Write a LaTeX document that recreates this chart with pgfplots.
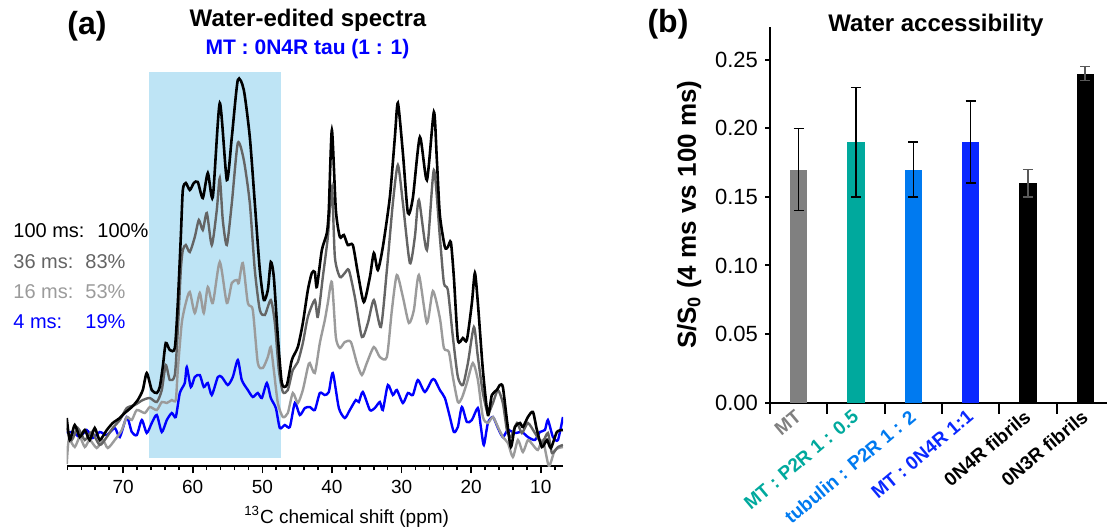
\documentclass[border=0pt]{standalone}
\usepackage{pgfplots}
\pgfplotsset{compat=1.18}
\usepackage{fontspec}
\setmainfont{Liberation Sans}

\definecolor{shade}{RGB}{190,228,245}
\definecolor{dgray}{RGB}{100,100,100}
\definecolor{lgray}{RGB}{155,155,155}
\definecolor{sblue}{RGB}{0,0,255}
\definecolor{bgray}{RGB}{128,128,128}
\definecolor{bteal}{RGB}{0,169,157}
\definecolor{blight}{RGB}{0,122,240}
\definecolor{bblue}{RGB}{10,40,255}

\begin{document}
\begin{tikzpicture}
\useasboundingbox (0pt,0pt) rectangle (553.5pt,263pt);

% ---------- (a) water-edited spectra ----------
\begin{axis}[
  at={(33.35pt,30pt)}, anchor=south west, scale only axis,
  width=248.2pt, height=197pt,
  xmin=6.8, xmax=78.1, ymin=0, ymax=394, x dir=reverse,
  axis x line*=bottom, hide y axis,
  axis line style={-, line width=1pt},
  xtick={10,20,...,70}, minor xtick={8,10,...,78},
  tick align=outside, major tick length=3.5pt, minor tick length=2pt,
  every tick/.style={black, line width=0.8pt},
  ticklabel style={font=\fontsize{9.5}{11}\selectfont},
  /pgf/number format/assume math mode=true,
  xlabel={\textsuperscript{13}C chemical shift (ppm)},
  xlabel style={font=\fontsize{9.5}{11}\selectfont, at={(axis description cs:0.564,0)}, anchor=center, yshift=-25.5pt},
]
\addplot[fill=shade, draw=none] coordinates {(66.25,8) (47.25,8) (47.25,394) (66.25,394)} -- cycle;
% 4 ms
\addplot[sblue, line width=1.2pt, smooth, tension=0.4] coordinates {
(78.09,33) (77.23,34) (76.22,29) (75.22,36) (74.35,28) (73.35,34) (72.34,31) (71.19,38) (70.47,29) (69.47,49)
(68.75,34) (68.03,31) (67.31,46) (66.60,33) (65.88,43) (65.16,51) (64.44,34) (63.72,46) (63.00,53) (62.43,49)
(61.85,73) (61.14,83) (60.85,99) (60.27,79) (59.70,89) (58.98,91) (58.41,79) (57.83,83) (57.26,71) (56.39,89)
(55.82,89) (54.96,81) (54.24,89) (53.52,106) (52.95,86) (52.08,76) (51.37,69) (50.65,73) (50.07,68) (49.35,83)
(48.78,68) (48.06,58) (47.49,38) (46.77,41) (46.05,39) (45.33,63) (44.61,51) (43.89,58) (43.18,59) (42.46,56)
(41.74,73) (41.02,71) (40.45,74) (39.87,93) (39.01,58) (38.15,48) (37.43,56) (36.57,66) (36.14,64) (35.56,74)
(34.55,56) (33.84,58) (33.12,64) (32.69,56) (31.97,81) (31.25,71) (30.68,76) (29.81,63) (29.09,73) (28.38,71)
(27.66,86) (26.65,74) (25.65,86) (25.22,86) (24.50,76) (23.78,68) (23.06,49) (22.49,34) (21.91,39) (21.34,59)
(20.62,44) (19.90,46) (19.04,58) (18.61,39) (18.18,21) (17.60,43) (16.88,49) (16.16,38) (15.45,29) (14.73,36)
(13.72,33) (12.72,34) (11.85,29) (10.85,26) (10.13,34) (9.41,36) (8.98,46) (8.26,29) (7.54,26) (6.82,49)};
% 16 ms
\addplot[lgray, line width=1.2pt, smooth, tension=0.4] coordinates {
(78.09,2) (77.80,26) (76.94,19) (76.22,29) (75.50,19) (74.79,26) (73.78,18) (72.92,26) (72.20,18) (71.19,26)
(70.19,36) (69.47,49) (68.75,46) (68.03,56) (66.88,53) (66.16,59) (65.16,56) (64.44,64) (63.72,63) (63.00,66)
(62.43,66) (62.14,96) (61.57,143) (60.99,163) (60.42,174) (59.70,153) (58.98,173) (58.41,153) (57.83,179) (57.11,163)
(56.11,204) (55.10,163) (54.38,183) (53.66,186) (53.38,183) (52.80,203) (52.08,163) (51.37,156) (50.65,103) (49.93,98)
(49.21,109) (48.78,119) (48.35,96) (47.77,63) (47.05,49) (46.34,53) (45.62,73) (44.90,63) (44.18,76) (43.46,99)
(43.18,103) (42.46,93) (41.74,123) (41.02,146) (40.59,163) (40.01,184) (39.44,129) (38.86,118) (38.15,124) (37.28,124)
(36.42,103) (35.70,91) (34.99,103) (33.98,119) (33.12,109) (32.11,109) (31.39,156) (30.68,191) (29.81,169) (28.95,143)
(28.23,156) (27.51,191) (26.36,143) (25.50,175) (24.50,148) (23.92,118) (23.20,114) (22.63,89) (21.91,64) (21.34,68)
(20.62,83) (19.76,103) (19.04,86) (18.32,49) (17.60,43) (16.88,49) (16.16,39) (15.45,29) (14.73,23) (14.01,9)
(13.29,26) (12.57,14) (11.85,26) (11.13,21) (10.42,16) (9.70,26) (8.84,0) (7.97,16) (6.82,19)};
% 36 ms
\addplot[dgray, line width=1.2pt, smooth, tension=0.4] coordinates {
(78.09,38) (77.37,26) (76.51,38) (75.50,26) (74.50,34) (73.35,21) (72.34,29) (71.48,38) (70.47,46) (69.47,58)
(68.32,61) (67.17,66) (66.16,68) (65.16,64) (64.44,76) (63.87,101) (63.29,86) (62.57,91) (62.14,136) (61.71,196)
(61.42,216) (60.99,221) (60.42,214) (59.70,229) (59.12,246) (58.55,236) (57.97,253) (57.26,221) (56.54,256) (56.11,288)
(55.68,246) (55.10,221) (54.38,263) (53.52,323) (52.66,306) (51.80,263) (51.08,196) (50.36,156) (49.64,151) (48.78,166)
(48.20,143) (47.63,96) (47.05,74) (46.34,76) (45.62,96) (44.90,104) (44.18,123) (43.46,149) (42.46,166) (42.03,149)
(41.31,189) (40.59,229) (40.01,279) (39.58,209) (38.86,189) (38.15,193) (37.57,196) (36.71,169) (35.70,129) (34.84,143)
(33.98,166) (32.97,139) (32.11,196) (31.25,263) (30.53,301) (29.81,263) (28.81,203) (28.09,229) (27.51,266) (26.36,216)
(25.36,296) (24.50,229) (23.92,183) (23.35,176) (22.63,129) (21.91,89) (21.19,81) (20.47,103) (19.61,139) (19.04,109)
(18.32,73) (17.60,53) (16.88,63) (16.16,76) (15.45,63) (14.87,36) (14.30,29) (13.43,43) (12.72,33) (11.85,43)
(10.85,33) (9.84,23) (8.98,33) (8.40,13) (7.54,19) (6.82,21)};
% 100 ms
\addplot[black, line width=1.3pt, smooth, tension=0.4] coordinates {
(78.09,48) (77.66,26) (76.94,41) (76.22,29) (75.50,36) (74.79,26) (74.07,38) (73.35,26) (72.34,36) (71.48,43)
(70.47,48) (69.76,53) (68.75,59) (67.89,66) (67.17,76) (66.60,93) (65.88,76) (65.16,73) (64.73,79) (64.30,99)
(63.87,123) (63.29,116) (62.57,118) (62.14,163) (61.71,229) (61.42,276) (60.99,283) (60.42,276) (59.84,283) (59.27,284)
(58.55,268) (57.83,293) (57.11,269) (56.11,363) (55.10,286) (54.38,329) (53.52,386) (52.66,376) (51.80,329) (51.08,263)
(50.36,196) (49.78,166) (49.21,176) (48.78,204) (48.35,189) (47.77,129) (47.20,83) (46.48,81) (45.76,106) (44.90,119)
(44.18,143) (43.46,176) (42.89,193) (42.46,194) (42.17,179) (41.45,216) (40.73,233) (40.45,256) (40.01,336) (39.44,256)
(38.86,229) (38.29,231) (37.72,221) (37.00,221) (36.28,193) (35.42,164) (34.55,189) (33.98,213) (33.41,196) (32.69,219)
(31.68,269) (30.96,329) (30.53,363) (29.81,313) (29.09,253) (28.38,268) (27.37,329) (26.36,286) (25.36,354) (24.93,306)
(24.50,251) (23.78,219) (23.35,219) (22.92,224) (22.49,189) (21.91,126) (21.19,128) (20.62,126) (19.90,163) (19.47,193)
(19.04,163) (18.32,96) (17.60,51) (17.03,71) (16.31,76) (15.88,81) (15.45,79) (14.87,46) (14.30,19) (13.72,39)
(13.00,43) (12.57,39) (11.85,49) (11.13,54) (10.56,36) (9.84,19) (9.12,26) (8.55,18) (7.69,34) (6.82,36)};
\end{axis}

\node[font=\bfseries\fontsize{16}{18}\selectfont] at (43.5pt,250pt) {(a)};
\node[font=\bfseries\fontsize{12}{14}\selectfont] at (154pt,253pt) {Water-edited spectra};
\node[font=\bfseries\fontsize{10.5}{12}\selectfont, text=sblue] at (153.75pt,238.5pt) {MT : 0N4R tau (1 : 1)};
\node[anchor=west, font=\fontsize{10}{12}\selectfont, inner sep=0pt] at (6.5pt,147.5pt) {\makebox[42pt][l]{100 ms:}100\%};
\node[anchor=west, font=\fontsize{10}{12}\selectfont, inner sep=0pt, text=dgray] at (6.5pt,132pt) {\makebox[36pt][l]{36 ms:}83\%};
\node[anchor=west, font=\fontsize{10}{12}\selectfont, inner sep=0pt, text=lgray] at (6.5pt,117pt) {\makebox[36pt][l]{16 ms:}53\%};
\node[anchor=west, font=\fontsize{10}{12}\selectfont, inner sep=0pt, text=sblue] at (6.5pt,102pt) {\makebox[36pt][l]{4 ms:}19\%};

% ---------- (b) water accessibility ----------
\begin{axis}[
  at={(385pt,61.75pt)}, anchor=south west, scale only axis,
  width=168.5pt, height=187.75pt,
  xmin=-0.5, xmax=5.38, ymin=0, ymax=0.274,
  axis x line*=bottom, axis y line*=left,
  axis line style={-, line width=1pt},
  tick align=outside, every tick/.style={black, line width=1pt},
  major tick length=5.5pt,
  ytick=\empty,
  extra y ticks={0,0.05,0.1,0.15,0.2,0.25},
  extra y tick style={major tick length=2.5pt},
  yticklabel style={font=\fontsize{11}{13}\selectfont, /pgf/number format/.cd, fixed, fixed zerofill, precision=2, assume math mode=true},
  xtick={-0.5,0.5,1.5,2.5,3.5,4.5}, xticklabels={},
  extra x ticks={0,1,2,3,4,5},
  extra x tick labels={{\color{bgray}MT},{\color{bteal}MT : P2R 1 : 0.5},{\color{blight}tubulin : P2R 1 : 2},{\color{bblue}MT : 0N4R 1:1},0N4R fibrils,0N3R fibrils},
  extra x tick style={major tick length=0pt},
  xticklabel style={xshift=2.5pt, yshift=-3.5pt, rotate=40, anchor=east, font=\bfseries\fontsize{9.5}{11}\selectfont},
  ylabel={S/S\textsubscript{0} (4 ms vs 100 ms)},
  ylabel style={font=\bfseries\fontsize{13}{15}\selectfont, at={(axis description cs:-0.240,0.5)}, anchor=center},
  ybar, bar width=0.3, bar shift=0pt,
  error bars/y dir=both, error bars/y explicit,
  error bars/error bar style={line width=0.75pt, black},
  error bars/error mark options={rotate=90, mark size=2.5pt, line width=0.75pt, black},
]
\addplot[fill=bgray, draw=none] coordinates {(0,0.17) +- (0,0.03)};
\addplot[fill=bteal, draw=none] coordinates {(1,0.19) +- (0,0.04)};
\addplot[fill=blight, draw=none] coordinates {(2,0.17) +- (0,0.02)};
\addplot[fill=bblue, draw=none] coordinates {(3,0.19) +- (0,0.03)};
\addplot[fill=black, draw=none, error bars/error bar style={line width=0.75pt, gray!70!black}, error bars/error mark options={rotate=90, mark size=2.5pt, line width=0.75pt, gray!70!black}] coordinates {(4,0.16) +- (0,0.01)};
\addplot[fill=black, draw=none, error bars/error bar style={line width=0.75pt, gray!70!black}, error bars/error mark options={rotate=90, mark size=2.5pt, line width=0.75pt, gray!70!black}] coordinates {(5,0.24) +- (0,0.005)};
\end{axis}

\node[font=\bfseries\fontsize{16}{18}\selectfont] at (334pt,251pt) {(b)};
\node[font=\bfseries\fontsize{12}{14}\selectfont] at (468pt,250.5pt) {Water accessibility};
\end{tikzpicture}
\end{document}
